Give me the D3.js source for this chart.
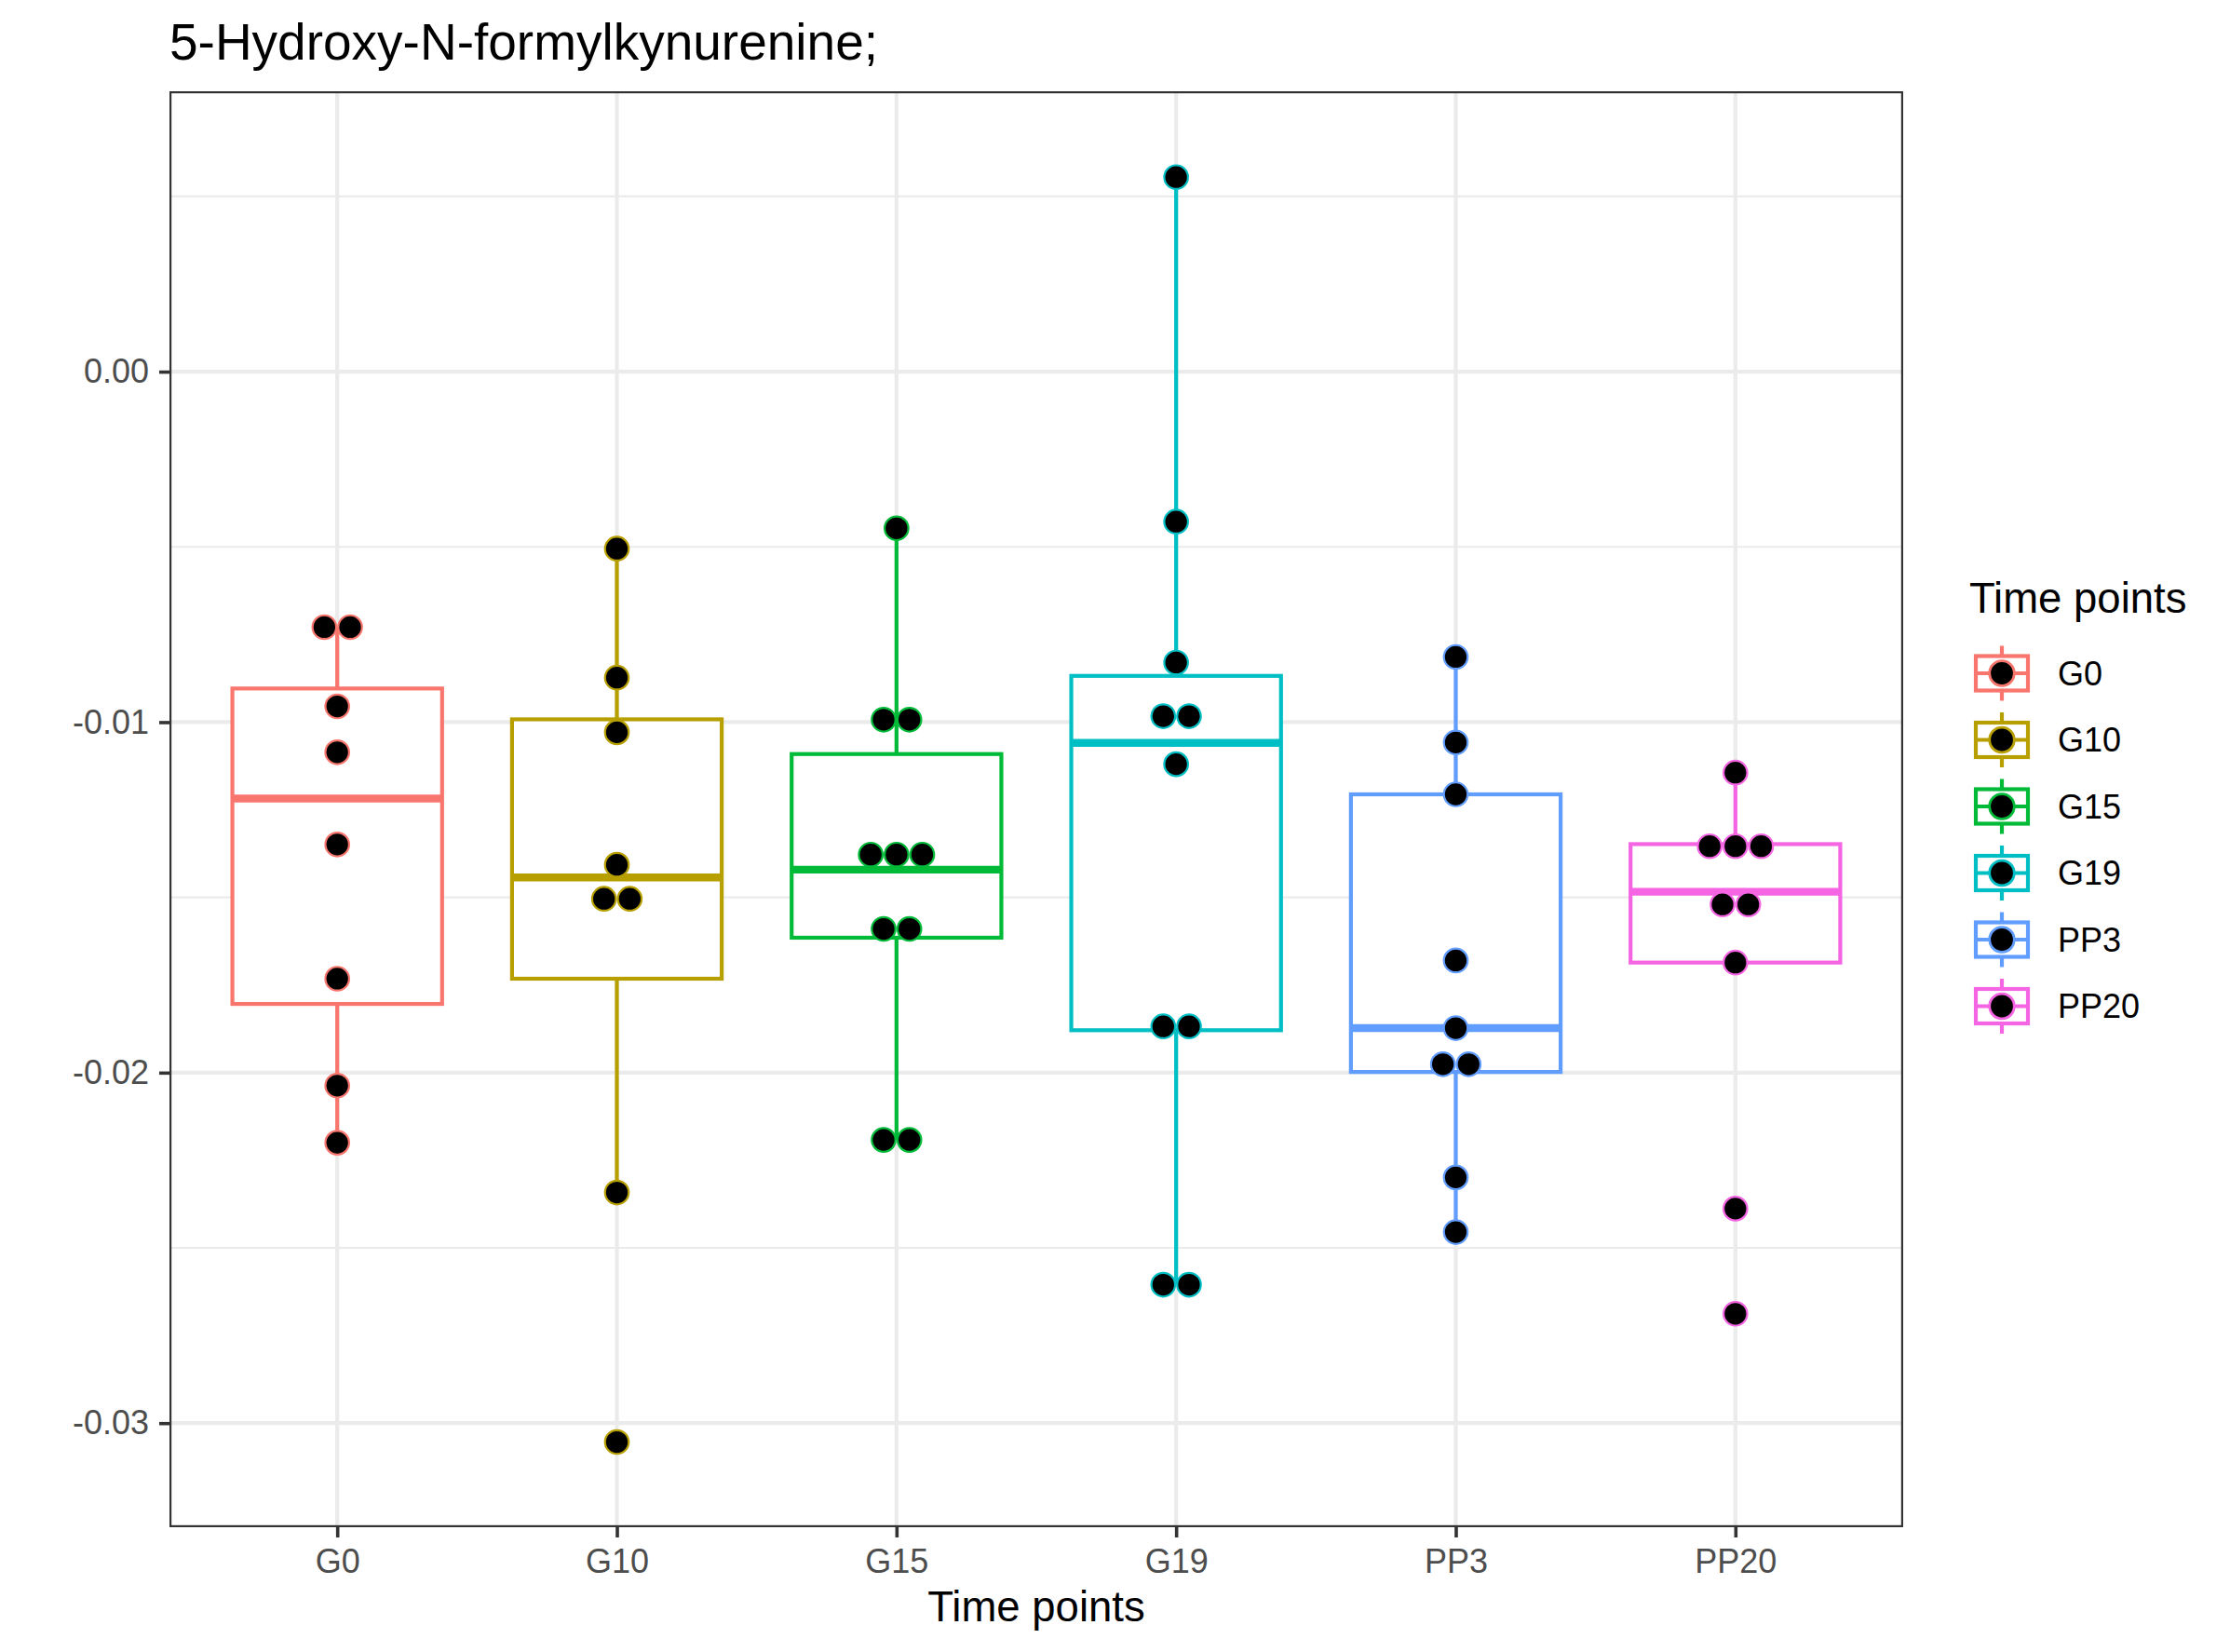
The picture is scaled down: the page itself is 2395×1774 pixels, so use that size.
<!DOCTYPE html>
<html>
<head>
<meta charset="utf-8">
<script src="https://cdn.jsdelivr.net/npm/d3@7"></script>
<style>
  body { margin: 0; background: #fff; }
  svg { display: block; font-family: 'Liberation Sans', Arial, Helvetica, sans-serif; }
</style>
</head>
<body>
<svg width="2395" height="1774"></svg>
<script>
const GROUPS = ['G0', 'G10', 'G15', 'G19', 'PP3', 'PP20'];
const COLORS = ['#F8766D', '#B79F00', '#00BA38', '#00BFC4', '#619CFF', '#F564E3'];

// dot positions (bin centres as drawn by the dotplot)
const DOTS_G0 = [-0.00729, -0.00729, -0.00955, -0.01086, -0.01349, -0.01732, -0.02037, -0.022];
const DOTS_G10 = [-0.00505, -0.00873, -0.01029, -0.01407, -0.01504, -0.01504, -0.02342, -0.03054];
const DOTS_G15 = [-0.00447, -0.00993, -0.00993, -0.01378, -0.01378, -0.01378, -0.0159, -0.0159, -0.02192, -0.02192];
const DOTS_G19 = [0.00555, -0.00428, -0.0083, -0.00983, -0.00983, -0.0112, -0.01868, -0.01868, -0.02605, -0.02605];
const DOTS_PP3 = [-0.00814, -0.01058, -0.01206, -0.0168, -0.01873, -0.01976, -0.01976, -0.02299, -0.02455];
const DOTS_PP20 = [-0.01144, -0.01354, -0.01354, -0.01354, -0.0152, -0.0152, -0.01686, -0.02388, -0.02688];
const DOTS = [DOTS_G0, DOTS_G10, DOTS_G15, DOTS_G19, DOTS_PP3, DOTS_PP20];

// box statistics per group
const WHISKER_HI = [-0.00729, -0.00505, -0.00447, 0.00555, -0.00814, -0.01144];
const Q3 = [-0.00904, -0.00992, -0.01091, -0.00868, -0.01206, -0.01348];
const MEDIAN = [-0.01218, -0.01443, -0.01421, -0.01059, -0.01873, -0.01484];
const Q1 = [-0.01804, -0.01732, -0.01615, -0.01879, -0.01998, -0.01686];
const WHISKER_LO = [-0.022, -0.02342, -0.02192, -0.02605, -0.02455, -0.01686];

const Y_TICKS = [0, -0.01, -0.02, -0.03];
const Y_MINOR = [0.005, -0.005, -0.015, -0.025];
const BINWIDTH = 0.000735;

const TITLE = '5-Hydroxy-N-formylkynurenine;';
const X_TITLE = 'Time points';
const LEGEND_TITLE = 'Time points';

// panel
const pLeft = 182, pRight = 2044, pTop = 98, pBottom = 1640;
const lw = 4.2;

const xScale = d3.scalePoint().domain(GROUPS).range([pLeft, pRight]).padding(0.6);
const yScale = d3.scaleLinear().domain([0.008, -0.03297]).range([pTop, pBottom]);
const color = d3.scaleOrdinal().domain(GROUPS).range(COLORS);
const step = xScale.step();
const boxW = step * 0.75;
const dotD = Math.abs(yScale(0) - yScale(BINWIDTH));

const svg = d3.select('svg');

// gridlines
svg.append('g')
  .selectAll('line')
  .data(Y_MINOR)
  .enter()
  .append('line')
  .attr('x1', pLeft).attr('x2', pRight)
  .attr('y1', d => yScale(d)).attr('y2', d => yScale(d))
  .attr('stroke', '#EBEBEB').attr('stroke-width', lw / 2);

svg.append('g')
  .selectAll('line')
  .data(Y_TICKS)
  .enter()
  .append('line')
  .attr('x1', pLeft).attr('x2', pRight)
  .attr('y1', d => yScale(d)).attr('y2', d => yScale(d))
  .attr('stroke', '#EBEBEB').attr('stroke-width', lw);

svg.append('g')
  .selectAll('line')
  .data(GROUPS)
  .enter()
  .append('line')
  .attr('x1', d => xScale(d)).attr('x2', d => xScale(d))
  .attr('y1', pTop).attr('y2', pBottom)
  .attr('stroke', '#EBEBEB').attr('stroke-width', lw);

// boxplots
const boxes = svg.append('g')
  .selectAll('g')
  .data(GROUPS)
  .enter()
  .append('g');

boxes.append('line')
  .attr('x1', d => xScale(d)).attr('x2', d => xScale(d))
  .attr('y1', (d, i) => yScale(WHISKER_HI[i])).attr('y2', (d, i) => yScale(Q3[i]))
  .attr('stroke', d => color(d)).attr('stroke-width', lw);

boxes.append('line')
  .attr('x1', d => xScale(d)).attr('x2', d => xScale(d))
  .attr('y1', (d, i) => yScale(Q1[i])).attr('y2', (d, i) => yScale(WHISKER_LO[i]))
  .attr('stroke', d => color(d)).attr('stroke-width', lw);

boxes.append('rect')
  .attr('x', d => xScale(d) - boxW / 2)
  .attr('width', boxW)
  .attr('y', (d, i) => yScale(Q3[i]))
  .attr('height', (d, i) => yScale(Q1[i]) - yScale(Q3[i]))
  .attr('fill', '#fff')
  .attr('stroke', d => color(d)).attr('stroke-width', lw);

boxes.append('line')
  .attr('x1', d => xScale(d) - boxW / 2).attr('x2', d => xScale(d) + boxW / 2)
  .attr('y1', (d, i) => yScale(MEDIAN[i])).attr('y2', (d, i) => yScale(MEDIAN[i]))
  .attr('stroke', d => color(d)).attr('stroke-width', lw * 2);

// dots, stacked side by side where they share a bin
const dotData = [];
GROUPS.forEach((g, gi) => {
  const bins = d3.groups(DOTS[gi], v => v);
  bins.forEach(([v, arr]) => {
    arr.forEach((_, k) => {
      dotData.push({ group: g, value: v, offset: (k - (arr.length - 1) / 2) * dotD });
    });
  });
});

svg.append('g')
  .selectAll('circle')
  .data(dotData)
  .enter()
  .append('circle')
  .attr('cx', d => xScale(d.group) + d.offset)
  .attr('cy', d => yScale(d.value))
  .attr('r', dotD / 2 - 1.1)
  .attr('fill', '#000')
  .attr('stroke', d => color(d.group))
  .attr('stroke-width', 2.2);

// panel border
svg.append('rect')
  .attr('x', pLeft + 1.1).attr('y', pTop + 1.1)
  .attr('width', pRight - pLeft - 2.2).attr('height', pBottom - pTop - 2.2)
  .attr('fill', 'none').attr('stroke', '#333333').attr('stroke-width', 2.2);

// axes
const yAxis = svg.append('g')
  .attr('transform', `translate(${pLeft},0)`)
  .call(d3.axisLeft(yScale).tickValues(Y_TICKS).tickFormat(d => d.toFixed(2)).tickSize(11).tickPadding(11));

const xAxis = svg.append('g')
  .attr('transform', `translate(0,${pBottom})`)
  .call(d3.axisBottom(xScale).tickSize(11).tickPadding(12));

[yAxis, xAxis].forEach(a => {
  a.select('.domain').remove();
  a.selectAll('.tick line').attr('stroke', '#333333').attr('stroke-width', 3.6);
  a.selectAll('.tick text')
    .attr('fill', '#4D4D4D')
    .style('font-size', '36px')
    .style('font-family', "'Liberation Sans', Arial, sans-serif");
});

// titles
svg.append('text')
  .attr('x', pLeft).attr('y', 64)
  .style('font-size', '55px')
  .text(TITLE);

svg.append('text')
  .attr('x', (pLeft + pRight) / 2).attr('y', 1741)
  .attr('text-anchor', 'middle')
  .style('font-size', '45.5px')
  .text(X_TITLE);

// legend
svg.append('text')
  .attr('x', 2115).attr('y', 658)
  .style('font-size', '45.5px')
  .text(LEGEND_TITLE);

const keyX = 2150, keyY0 = 723, keyStep = 71.5;
const keys = svg.append('g')
  .selectAll('g')
  .data(GROUPS)
  .enter()
  .append('g')
  .attr('transform', (d, i) => `translate(${keyX},${keyY0 + i * keyStep})`);

keys.append('line')
  .attr('x1', 0).attr('x2', 0).attr('y1', -29.5).attr('y2', 29.5)
  .attr('stroke', d => color(d)).attr('stroke-width', lw);

keys.append('rect')
  .attr('x', -28).attr('y', -18.5).attr('width', 56).attr('height', 37)
  .attr('fill', '#fff')
  .attr('stroke', d => color(d)).attr('stroke-width', lw);

keys.append('line')
  .attr('x1', -28).attr('x2', 28).attr('y1', 0).attr('y2', 0)
  .attr('stroke', d => color(d)).attr('stroke-width', lw);

keys.append('circle')
  .attr('r', 13.3)
  .attr('fill', '#000')
  .attr('stroke', d => color(d)).attr('stroke-width', 2.8);

keys.append('text')
  .attr('x', 60).attr('y', 0).attr('dy', '0.36em')
  .style('font-size', '36px')
  .text(d => d);
</script>
</body>
</html>
